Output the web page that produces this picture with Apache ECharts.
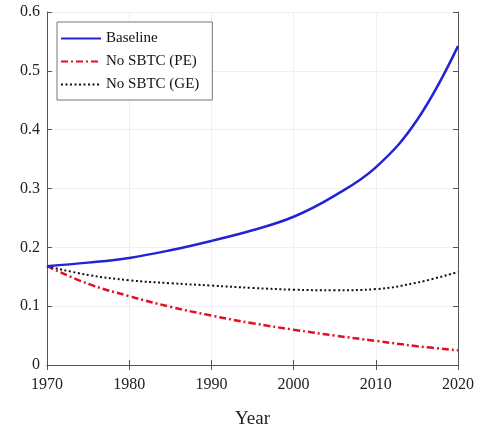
<!DOCTYPE html>
<html><head><meta charset="utf-8">
<script src="https://cdn.jsdelivr.net/npm/echarts@6/dist/echarts.min.js"></script>
<style>html,body{margin:0;padding:0;background:#fff}#c{width:486px;height:434px}</style>
</head><body><div id="c"></div>
<script>
const years = [1970,1975,1980,1985,1990,1995,2000,2005,2010,2015,2020];
const baseline = [0.168,0.174,0.182,0.195,0.211,0.229,0.252,0.288,0.336,0.416,0.542];
const noSbtcPE = [0.168,0.138,0.117,0.099,0.084,0.071,0.060,0.050,0.041,0.032,0.025];
const noSbtcGE = [0.168,0.153,0.144,0.139,0.135,0.131,0.128,0.127,0.129,0.140,0.158];
const seriesNames = ['Baseline','No SBTC (PE)','No SBTC (GE)'];
const xTitle = 'Year';

const font = 'Liberation Serif';
const axisCol = '#555';
const pair = arr => years.map((y,i)=>[y,arr[i]]);
const chart = echarts.init(document.getElementById('c'));
chart.setOption({
  animation:false,
  grid:{left:47,right:28,top:12,bottom:67},
  legend:{
    orient:'vertical', left:57, top:22, itemWidth:40, itemHeight:14, itemGap:8,
    padding:[9,13,8,3], borderColor:'#777', borderWidth:1, backgroundColor:'#fff',
    itemStyle:{opacity:0},
    textStyle:{fontFamily:font,fontSize:15,color:'#111'},
    data:seriesNames
  },
  xAxis:[{
    type:'value', min:1970, max:2020, interval:10,
    name:xTitle, nameLocation:'middle', nameGap:45,
    nameTextStyle:{fontFamily:font,fontSize:19,color:'#222'},
    axisLine:{lineStyle:{color:axisCol}},
    axisTick:{inside:true,length:5,lineStyle:{color:axisCol}},
    axisLabel:{fontFamily:font,fontSize:16,color:'#222',margin:12,formatter:v=>String(v)},
    splitLine:{show:true,lineStyle:{color:'#efefef'}}
  },{
    type:'value', min:1970, max:2020, interval:10, position:'top',
    axisLine:{show:true,lineStyle:{color:axisCol}},
    axisTick:{show:true,inside:true,length:5,lineStyle:{color:axisCol}},
    axisLabel:{show:false}, splitLine:{show:false}
  }],
  yAxis:[{
    type:'value', min:0, max:0.6, interval:0.1,
    axisLine:{show:true,lineStyle:{color:axisCol}},
    axisTick:{show:true,inside:true,length:5,lineStyle:{color:axisCol}},
    axisLabel:{fontFamily:font,fontSize:16,color:'#222',margin:7,formatter:v=>String(+v.toFixed(1))},
    splitLine:{show:true,lineStyle:{color:'#efefef'}}
  },{
    type:'value', min:0, max:0.6, interval:0.1, position:'right',
    axisLine:{show:true,lineStyle:{color:axisCol}},
    axisTick:{show:true,inside:true,length:5,lineStyle:{color:axisCol}},
    axisLabel:{show:false}, splitLine:{show:false}
  }],
  series:[
    {name:seriesNames[0],type:'line',data:pair(baseline),smooth:0.4,symbol:'none',
     lineStyle:{color:'#2323d6',width:2.5},itemStyle:{color:'#2323d6'},z:3},
    {name:seriesNames[1],type:'line',data:pair(noSbtcPE),smooth:0.4,symbol:'none',
     lineStyle:{color:'#e01020',width:2.5,type:[7,3,2,3]},itemStyle:{color:'#e01020'},z:2},
    {name:seriesNames[2],type:'line',data:pair(noSbtcGE),smooth:0.4,symbol:'none',
     lineStyle:{color:'#111',width:2,type:[2,2.5]},itemStyle:{color:'#111'},z:2}
  ]
});
</script></body></html>
